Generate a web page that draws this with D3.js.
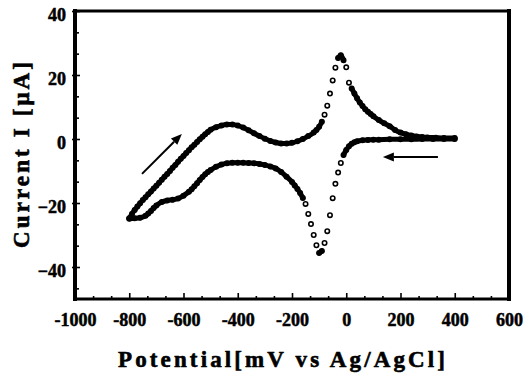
<!DOCTYPE html>
<html><head><meta charset="utf-8">
<script src="https://cdn.jsdelivr.net/npm/d3@7"></script>
<style>body{margin:0;background:#fff}svg{display:block}</style>
</head><body>
<script>
// ---- data ----
const potentialTicks = [-1000,-800,-600,-400,-200,0,200,400,600];
const currentTicks = [-40,-20,0,20,40];

// cathodic sweep: 400 mV -> -800 mV (lower branch)
const cathodicE = [400,360,320,280,240,200,160,120,100,80,60,40,30,20,10,0,-10,-20,-30,-40,-50,-60,-70,-80,-90,-100,-110,-120,-130,-140,-150,-160,-170,-180,-190,-200,-220,-240,-260,-280,-300,-320,-340,-360,-380,-400,-420,-440,-460,-480,-500,-510,-520,-530,-540,-550,-560,-570,-580,-600,-620,-640,-660,-680,-700,-710,-720,-730,-740,-760,-780,-800];
const cathodicI = [0.0,0.0,0.0,0.0,-0.1,-0.1,-0.1,-0.2,-0.2,-0.3,-0.4,-0.7,-1.0,-1.5,-2.3,-3.4,-5.0,-7.5,-10.5,-14.0,-18.5,-23.8,-28.8,-32.5,-35.0,-35.6,-33.2,-30.0,-26.6,-23.4,-20.3,-18.4,-16.9,-15.6,-14.5,-13.4,-11.8,-10.3,-9.2,-8.6,-8.1,-7.8,-7.6,-7.5,-7.4,-7.4,-7.4,-7.6,-8.0,-8.7,-9.7,-10.3,-11.0,-11.9,-12.8,-13.8,-14.8,-15.7,-16.5,-17.7,-18.6,-19.0,-19.2,-19.7,-20.8,-21.6,-22.5,-23.3,-24.0,-24.6,-24.8,-24.9];

// anodic sweep: -800 mV -> 400 mV (upper branch)
const anodicE = [-800,-790,-780,-770,-760,-750,-740,-730,-720,-710,-700,-690,-680,-670,-660,-650,-640,-630,-620,-610,-600,-590,-580,-570,-560,-550,-540,-530,-520,-510,-500,-480,-460,-440,-420,-400,-380,-360,-340,-320,-300,-280,-260,-240,-220,-200,-180,-160,-140,-120,-110,-100,-90,-80,-70,-60,-50,-40,-30,-20,-10,0,10,20,30,40,50,60,70,80,90,100,120,140,160,180,200,220,240,260,280,300,330,360,400];
const anodicI = [-24.8,-23.4,-22.2,-21.1,-20.1,-19.1,-18.2,-17.3,-16.4,-15.5,-14.6,-13.7,-12.7,-11.8,-10.9,-10.0,-9.0,-8.1,-7.1,-6.2,-5.3,-4.4,-3.5,-2.6,-1.8,-0.9,-0.1,0.7,1.5,2.2,2.9,3.7,4.2,4.5,4.5,4.2,3.6,2.7,1.8,0.9,0.1,-0.6,-1.1,-1.4,-1.4,-1.2,-0.7,0.0,0.9,2.0,2.8,3.8,5.4,7.6,10.4,14.2,18.3,22.3,25.3,26.2,24.6,22.4,17.6,15.8,14.2,12.7,11.4,10.3,9.3,8.5,7.8,7.1,5.9,4.9,4.0,2.8,2.0,1.5,1.1,0.8,0.6,0.5,0.4,0.3,0.3];

// scan-direction arrows [E0, I0, E1, I1]
const arrowUp = [-753, -10.9, -606, 1.6];
const arrowLeft = [338, -5.6, 135, -5.6];

const xLabel = "Potential[mV vs Ag/AgCl]";
const yLabel = "Current I [\u03bcA]";

// ---- drawing ----
const W = 530, H = 378;
const FONT = "Liberation Serif";
const svg = d3.select("body").append("svg").attr("width", W).attr("height", H);

const x = d3.scaleLinear().domain([-1000, 600]).range([75, 509]);
const y = d3.scaleLinear().domain([-50, 40]).range([299, 11]);

const xMinor = d3.range(0, 25).map(i => -1000 + i * 200 / 3).filter(v => !potentialTicks.some(t => Math.abs(t - v) < 1));
const yMinor = d3.range(0, 14).map(i => 40 - i * 20 / 3).filter(v => v > -50 && !currentTicks.some(t => Math.abs(t - v) < 0.5));

function styleText(sel, size, sw) {
  sel.attr("font-family", FONT).attr("font-weight", "bold").attr("font-size", size)
    .attr("fill", "#000").attr("stroke", "#000").attr("stroke-width", sw);
}

// bottom axis
const gx = svg.append("g").attr("transform", `translate(0,${y(-50)})`);
gx.call(d3.axisBottom(x).tickValues(xMinor).tickSize(-3).tickFormat(""));
gx.select(".domain").remove();
const gx2 = svg.append("g").attr("transform", `translate(0,${y(-50)})`);
gx2.call(d3.axisBottom(x).tickValues(potentialTicks).tickSize(-6).tickPadding(14).tickFormat(d3.format("d")));
gx2.select(".domain").remove();
styleText(gx2.selectAll("text").text(d => String(d)), 18, 0.5);

// left axis
const gy = svg.append("g").attr("transform", `translate(${x(-1000)},0)`);
gy.call(d3.axisLeft(y).tickValues(yMinor).tickSize(-4).tickFormat(""));
gy.select(".domain").remove();
const gy2 = svg.append("g").attr("transform", `translate(${x(-1000)},0)`);
gy2.call(d3.axisLeft(y).tickValues(currentTicks).tickSize(-5).tickPadding(9).tickFormat(d3.format("d")));
gy2.select(".domain").remove();
gy2.selectAll(".tick line").attr("x1", -3);
styleText(gy2.selectAll("text").attr("dy", "0.52em"), 18, 0.5);

svg.selectAll(".tick line").attr("stroke", "#000").attr("stroke-width", 1.6);

// frame
const fr = svg.append("g").attr("stroke", "#000").attr("stroke-linecap", "square");
fr.append("line").attr("x1", x(-1000)).attr("x2", x(600)).attr("y1", y(40)).attr("y2", y(40)).attr("stroke-width", 3);
fr.append("line").attr("x1", x(-1000)).attr("x2", x(600)).attr("y1", y(-50)).attr("y2", y(-50)).attr("stroke-width", 3);
fr.append("line").attr("x1", x(-1000)).attr("x2", x(-1000)).attr("y1", y(40)).attr("y2", y(-50)).attr("stroke-width", 4);
fr.append("line").attr("x1", x(600)).attr("x2", x(600)).attr("y1", y(40)).attr("y2", y(-50)).attr("stroke-width", 4);

// data: dense stretches look like a thick band, steep stretches show separate open circles
function runs(E, I) {
  const pts = E.map((e, i) => [x(e), y(I[i])]);
  const out = []; let cur = [pts[0]];
  for (let i = 1; i < pts.length; i++) {
    if (Math.abs(pts[i][1] - pts[i - 1][1]) < 5.6) cur.push(pts[i]);
    else { out.push(cur); cur = [pts[i]]; }
  }
  out.push(cur);
  return { pts, out };
}
const line = d3.line().curve(d3.curveCatmullRom);
const dataG = svg.append("g");
[[cathodicE, cathodicI], [anodicE, anodicI]].forEach(([E, I]) => {
  const r = runs(E, I);
  dataG.selectAll(null).data(r.out.filter(d => d.length > 1)).join("path")
    .attr("d", line).attr("fill", "none").attr("stroke", "#000")
    .attr("stroke-width", 5).attr("stroke-linecap", "round").attr("stroke-linejoin", "round");
  dataG.selectAll(null).data(r.pts).join("circle")
    .attr("cx", d => d[0]).attr("cy", d => d[1]).attr("r", 2.2)
    .attr("fill", "none").attr("stroke", "#000").attr("stroke-width", 1.6);
});

// arrows
function arrow(a) {
  const x0 = x(a[0]), y0 = y(a[1]), x1 = x(a[2]), y1 = y(a[3]);
  const ang = Math.atan2(y1 - y0, x1 - x0), L = 11, Wd = 4.5;
  const bx = x1 - L * Math.cos(ang), by = y1 - L * Math.sin(ang);
  svg.append("line").attr("x1", x0).attr("y1", y0).attr("x2", bx).attr("y2", by)
    .attr("stroke", "#000").attr("stroke-width", 2);
  svg.append("path").attr("fill", "#000").attr("d",
    `M${x1},${y1}L${bx + Wd * Math.sin(ang)},${by - Wd * Math.cos(ang)}L${bx - Wd * Math.sin(ang)},${by + Wd * Math.cos(ang)}Z`);
}
arrow(arrowUp);
arrow(arrowLeft);

// axis titles
const t1 = svg.append("text").attr("x", 281.5).attr("y", 367).attr("text-anchor", "middle")
  .attr("textLength", 327).attr("lengthAdjust", "spacing").text(xLabel);
const t2 = svg.append("text").attr("transform", "translate(29,155) rotate(-90)").attr("text-anchor", "middle")
  .attr("textLength", 186).attr("lengthAdjust", "spacing").text(yLabel);
styleText(t1, 23, 0.6); styleText(t2, 23, 0.6);
</script>
</body></html>
